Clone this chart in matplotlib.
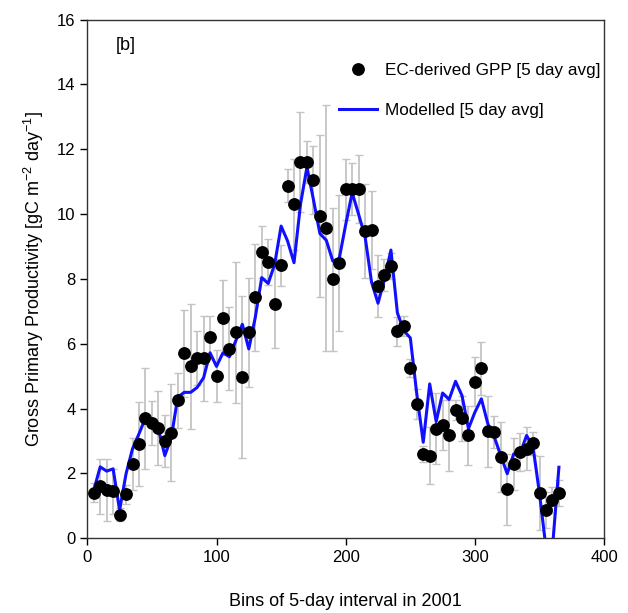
import numpy as np
import matplotlib
matplotlib.use("Agg")
import matplotlib.pyplot as plt

plt.rcParams['font.family'] = ['Liberation Sans', 'DejaVu Sans']

# 5-day bins through 2001
bins = np.arange(5, 366, 5)

# EC-derived GPP, 5-day averages
gpp_obs = [1.41, 1.60, 1.48, 1.45, 0.73, 1.35, 2.30, 2.90, 3.70, 3.55,
           3.40, 3.00, 3.25, 4.25, 5.70, 5.30, 5.55, 5.55, 6.20, 5.00,
           6.80, 5.85, 6.35, 4.97, 6.35, 7.43, 8.83, 8.52, 7.24, 8.42,
           10.88, 10.30, 11.60, 11.60, 11.05, 9.94, 9.58, 7.99, 8.48, 10.76,
           10.78, 10.76, 9.48, 9.50, 7.78, 8.12, 8.40, 6.38, 6.55, 5.25,
           4.14, 2.60, 2.55, 3.38, 3.50, 3.17, 3.96, 3.70, 3.17, 4.83,
           5.24, 3.30, 3.27, 2.50, 1.51, 2.30, 2.66, 2.76, 2.93, 1.40,
           0.88, 1.19, 1.40]

# standard deviation within each bin
gpp_sd = [0.30, 0.85, 0.95, 0.70, 0.20, 0.30, 0.80, 1.30, 1.55, 0.68,
          1.14, 0.80, 1.50, 0.86, 1.34, 1.92, 0.83, 1.31, 0.66, 0.80,
          1.16, 1.29, 2.18, 2.50, 1.68, 1.66, 0.80, 0.72, 1.36, 0.63,
          0.50, 1.40, 1.55, 0.65, 1.05, 2.50, 3.80, 2.20, 2.10, 0.95,
          0.80, 1.05, 1.45, 1.20, 0.95, 0.50, 0.40, 0.45, 0.30, 0.27,
          0.46, 0.25, 0.87, 1.10, 0.77, 1.10, 0.30, 0.70, 0.90, 0.75,
          0.82, 1.10, 0.50, 1.08, 1.10, 0.80, 0.60, 0.67, 0.36, 1.15,
          0.55, 0.40, 0.40]

# Modelled GPP, 5-day averages
gpp_model = [1.48, 2.20, 2.07, 2.14, 0.86, 1.99, 2.76, 3.22, 3.71, 3.65,
             3.37, 2.55, 3.10, 4.35, 4.50, 4.50, 4.65, 4.95, 5.72, 5.30,
             5.72, 5.60, 6.10, 6.60, 5.84, 6.81, 8.04, 7.86, 8.45, 9.63,
             9.17, 8.50, 10.30, 11.45, 10.45, 9.40, 9.19, 8.55, 8.63, 9.68,
             10.66, 9.99, 9.30, 7.90, 7.25, 7.99, 8.89, 6.95, 6.40, 6.18,
             4.45, 2.96, 4.76, 3.60, 4.48, 4.28, 4.84, 4.40, 3.38, 3.89,
             4.30, 3.53, 3.12, 2.55, 1.99, 2.60, 2.62, 3.17, 2.81, 1.37,
             -0.30, -0.30, 2.19]

fig = plt.figure(figsize=(6.28, 6.13), dpi=100)
ax = fig.add_axes([0.139, 0.122, 0.823, 0.846])

ax.errorbar(bins, gpp_obs, yerr=gpp_sd, fmt='none', ecolor='#c4c4c4',
            elinewidth=1.3, capsize=2.8, capthick=1.0, zorder=1)
ax.plot(bins, gpp_obs, 'o', color='black', markersize=8.2,
        label='EC-derived GPP [5 day avg]', zorder=3)
ax.plot(bins, gpp_model, '-', color='#1010ff', linewidth=2.2,
        label='Modelled [5 day avg]', zorder=2)

ax.set_xlim(0, 400)
ax.set_ylim(0, 16)
ax.set_xticks(np.arange(0, 401, 100))
ax.set_yticks(np.arange(0, 17, 2))
ax.tick_params(direction='out', length=5, width=1, labelsize=12,
               top=False, right=False)
for s in ax.spines.values():
    s.set_linewidth(1.0)
    s.set_color('#333333')

ax.set_xlabel('Bins of 5-day interval in 2001', fontsize=13, labelpad=20)
ax.set_ylabel('Gross Primary Productivity [gC m$^{\\mathregular{-2}}$ '
              'day$^{\\mathregular{-1}}$]', fontsize=13, labelpad=8)

ax.text(22, 15.2, '[b]', fontsize=13, ha='left', va='center')

ax.legend(loc='upper right', bbox_to_anchor=(1.013, 0.937), frameon=False,
          fontsize=12.3, labelspacing=1.5, handlelength=2.2,
          handletextpad=0.5, borderaxespad=0.2, numpoints=1)

fig.savefig('out.png', dpi=100)
